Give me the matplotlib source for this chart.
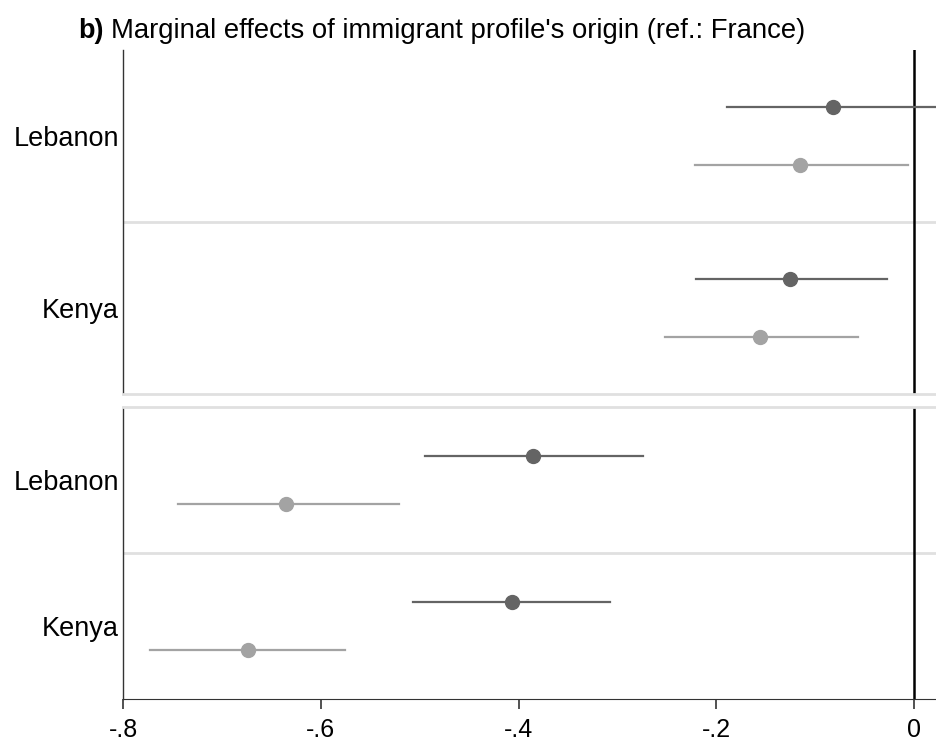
import matplotlib.pyplot as plt
import numpy as np

plt.rcParams['font.family'] = ['Liberation Sans', 'DejaVu Sans']

origins = ['Lebanon', 'Kenya']

# top panel: dark and light estimates with 95% CI
top_dark = [-0.082, -0.125]
top_dark_lo = [-0.189, -0.221]
top_dark_hi = [0.03, -0.027]
top_light = [-0.115, -0.156]
top_light_lo = [-0.222, -0.252]
top_light_hi = [-0.006, -0.057]

# bottom panel
bot_dark = [-0.385, -0.407]
bot_dark_lo = [-0.495, -0.507]
bot_dark_hi = [-0.274, -0.307]
bot_light = [-0.635, -0.674]
bot_light_lo = [-0.744, -0.773]
bot_light_hi = [-0.521, -0.575]

xticks = [-0.8, -0.6, -0.4, -0.2, 0]
xticklabels = ['-.8', '-.6', '-.4', '-.2', '0']

dark = '#646464'
light = '#a3a3a3'
sep = '#e0e0e0'

fig = plt.figure(figsize=(9.36, 7.47), dpi=100)
ax1 = fig.add_axes([123/936, 1-394/747, 1-123/936, (394-50)/747])
ax2 = fig.add_axes([123/936, 1-699/747, 1-123/936, (699-407)/747])

ypos = np.array([1, 0])
off = 0.167


def draw(ax, d, dlo, dhi, l, llo, lhi):
    for i, y in enumerate(ypos):
        ax.plot([dlo[i], dhi[i]], [y + off, y + off], color=dark, lw=1.6, zorder=3)
        ax.plot(d[i], y + off, 'o', color=dark, ms=10, zorder=4)
        ax.plot([llo[i], lhi[i]], [y - off, y - off], color=light, lw=1.6, zorder=3)
        ax.plot(l[i], y - off, 'o', color=light, ms=10, zorder=4)
    ax.axhline(0.5, color=sep, lw=2, zorder=1)
    ax.axvline(0, color='black', lw=1.8, zorder=2)
    ax.set_xlim(-0.8, 0.0222)
    ax.set_ylim(-0.5, 1.5)
    ax.set_yticks(ypos)
    ax.set_yticklabels(origins, fontsize=19.5)
    ax.tick_params(axis='y', length=0, pad=3)
    ax.spines['right'].set_visible(False)
    ax.spines['left'].set_color('#333333')
    ax.spines['left'].set_linewidth(1.0)


draw(ax1, top_dark, top_dark_lo, top_dark_hi, top_light, top_light_lo, top_light_hi)
draw(ax2, bot_dark, bot_dark_lo, bot_dark_hi, bot_light, bot_light_lo, bot_light_hi)

ax1.spines['top'].set_visible(False)
ax1.spines['bottom'].set_color(sep)
ax1.spines['bottom'].set_linewidth(2)
ax1.set_xticks([])

ax2.spines['top'].set_color(sep)
ax2.spines['top'].set_linewidth(2)
ax2.spines['bottom'].set_color('#333333')
ax2.set_xticks(xticks)
ax2.set_xticklabels(xticklabels, fontsize=18)
ax2.tick_params(axis='x', length=7.5, width=1.2, color='#333333', pad=6.5)

fig.text(78/936, 1-31/747, 'b)', fontsize=19.5, fontweight='bold', va='center')
fig.text(111/936, 1-31/747, "Marginal effects of immigrant profile's origin (ref.: France)",
         fontsize=19.8, va='center')

fig.savefig('out.png', dpi=100)
